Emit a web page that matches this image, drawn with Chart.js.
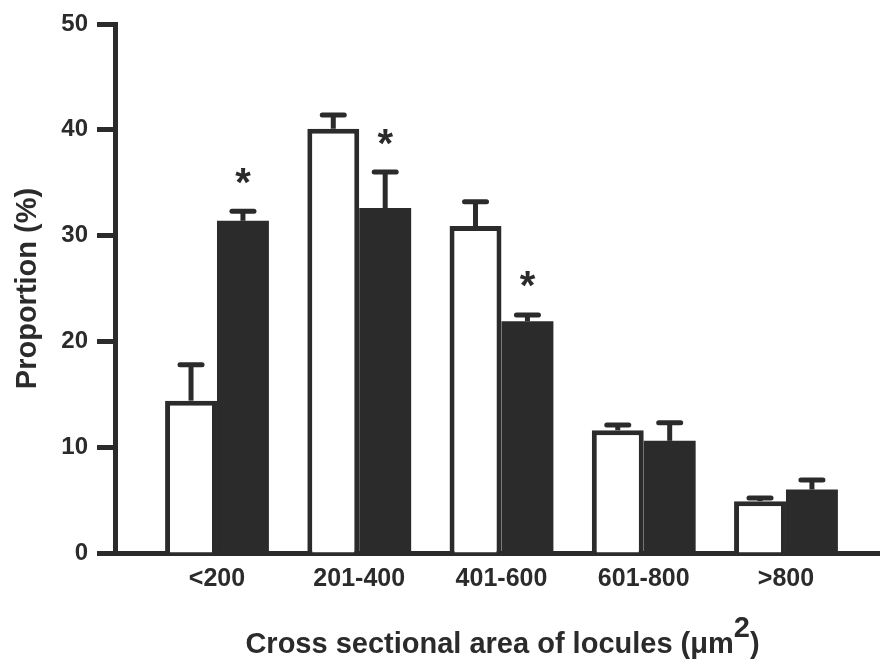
<!DOCTYPE html>
<html>
<head>
<meta charset="utf-8">
<script src="https://cdn.jsdelivr.net/npm/chart.js@4"></script>
<style>
  html, body { margin: 0; padding: 0; background: #fff; }
  canvas { display: block; }
</style>
</head>
<body>
<canvas id="chart" width="880" height="663"></canvas>
<script>
// Size classes of locule cross-sectional area (µm²)
const categories = ['<200', '201-400', '401-600', '601-800', '>800'];

// Open bars: mean proportion (%) and SEM
const openMeans = [14.4, 40.1, 30.9, 11.6, 4.9];
const openSem   = [3.4, 1.3, 2.3, 0.5, 0.3];

// Filled bars: mean proportion (%) and SEM
const filledMeans = [31.4, 32.6, 21.9, 10.6, 6.0];
const filledSem   = [0.9, 3.4, 0.6, 1.7, 0.9];

// Filled bars flagged as significantly different (*)
const filledSignificant = [true, true, true, false, false];

// Value axis ticks
const yTicks = [0, 10, 20, 30, 40, 50];

const INK = '#2b2b2b';
const FONT = '"Liberation Sans", Arial, sans-serif';

const toPoints = (vals) => vals.map((v, i) => ({ x: i, y: v }));

// Upper error bars with caps, plus significance asterisks
const errorBars = {
  id: 'errorBars',
  afterDatasetsDraw(chart) {
    const { ctx, scales: { y } } = chart;
    const sets = [
      { means: openMeans, sem: openSem, stars: null },
      { means: filledMeans, sem: filledSem, stars: filledSignificant }
    ];
    ctx.save();
    ctx.strokeStyle = INK;
    ctx.fillStyle = INK;
    sets.forEach((s, d) => {
      const meta = chart.getDatasetMeta(d);
      meta.data.forEach((bar, i) => {
        const x = bar.x;
        const yBar = y.getPixelForValue(s.means[i]);
        const yCap = y.getPixelForValue(s.means[i] + s.sem[i]);
        ctx.lineWidth = 5;
        ctx.lineCap = 'butt';
        ctx.beginPath();
        ctx.moveTo(x, yBar);
        ctx.lineTo(x, yCap);
        ctx.stroke();
        ctx.lineCap = 'round';
        ctx.beginPath();
        ctx.moveTo(x - 11, yCap);
        ctx.lineTo(x + 11, yCap);
        ctx.stroke();
        if (s.stars && s.stars[i]) {
          const size = 40;
          ctx.font = 'bold ' + size + 'px ' + FONT;
          ctx.textAlign = 'center';
          ctx.textBaseline = 'alphabetic';
          ctx.fillText('*', x, yCap - 38 + 0.56 * size);
        }
      });
    });
    ctx.restore();
  }
};

// Axis title under the category labels, with a raised exponent
const xAxisTitle = {
  id: 'xAxisTitle',
  afterDraw(chart) {
    const { ctx } = chart;
    const main = 'Cross sectional area of locules (\u03BCm';
    const sup = '2';
    const tail = ')';
    ctx.save();
    ctx.fillStyle = INK;
    ctx.font = 'bold 29px ' + FONT;
    ctx.textBaseline = 'alphabetic';
    ctx.textAlign = 'left';
    const wMain = ctx.measureText(main).width;
    const wSup = ctx.measureText(sup).width;
    const wTail = ctx.measureText(tail).width;
    const total = wMain + wSup + wTail;
    const cx = (chart.chartArea.left + chart.chartArea.right) / 2 + 5;
    let x = cx - total / 2;
    const base = 653;
    ctx.fillText(main, x, base);
    x += wMain;
    ctx.fillText(sup, x, base - 16);
    x += wSup;
    ctx.fillText(tail, x, base);
    ctx.restore();
  }
};

new Chart(document.getElementById('chart'), {
  type: 'bar',
  data: {
    datasets: [
      {
        data: toPoints(openMeans),
        backgroundColor: '#ffffff',
        borderColor: INK,
        borderWidth: 5,
        borderSkipped: 'start'
      },
      {
        data: toPoints(filledMeans),
        backgroundColor: INK,
        borderColor: INK,
        borderWidth: 0
      }
    ]
  },
  options: {
    responsive: false,
    animation: false,
    events: [],
    categoryPercentage: 0.73,
    barPercentage: 1.0,
    layout: { padding: { top: 24, right: 0, bottom: 0, left: 0 } },
    plugins: {
      legend: { display: false },
      tooltip: { enabled: false },
      title: { display: false }
    },
    scales: {
      x: {
        type: 'linear',
        min: -0.717,
        max: 4.661,
        offset: false,
        afterBuildTicks: (s) => { s.ticks = categories.map((_, i) => ({ value: i })); },
        afterFit: (s) => { s.height = 110; },
        grid: { display: false, drawTicks: false, offset: false },
        border: { display: true, color: INK, width: 5 },
        ticks: {
          padding: 11,
          maxRotation: 0,
          autoSkip: false,
          color: INK,
          font: { family: FONT, size: 25, weight: 'bold' },
          callback: (v, i) => categories[i]
        }
      },
      y: {
        min: 0,
        max: 50,
        afterBuildTicks: (s) => { s.ticks = yTicks.map(v => ({ value: v })); },
        afterFit: (s) => { s.width = 115; },
        grid: {
          display: true,
          drawOnChartArea: false,
          drawTicks: true,
          tickLength: 18,
          tickWidth: 5,
          tickColor: INK
        },
        border: { display: true, color: INK, width: 5 },
        ticks: {
          padding: 9,
          color: INK,
          font: { family: FONT, size: 24, weight: 'bold' }
        },
        title: {
          display: true,
          text: 'Proportion (%)',
          color: INK,
          padding: { top: 11, bottom: 0 },
          font: { family: FONT, size: 29, weight: 'bold' }
        }
      }
    }
  },
  plugins: [errorBars, xAxisTitle]
});
</script>
</body>
</html>
